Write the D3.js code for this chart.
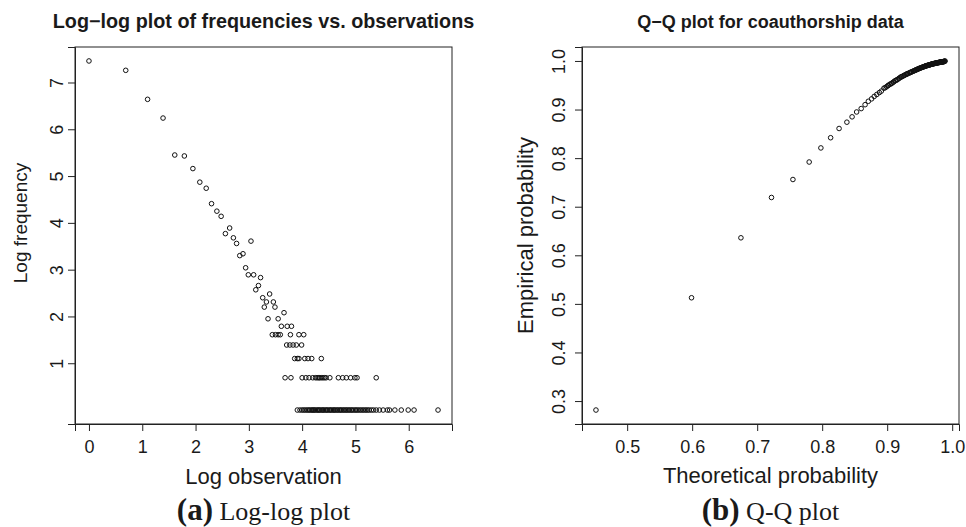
<!DOCTYPE html>
<html>
<head>
<meta charset="utf-8">
<script src="https://cdn.jsdelivr.net/npm/d3@7"></script>
<style>
  html, body { margin: 0; padding: 0; background: #fff; }
  svg { display: block; }
  text { fill: #1a1a1a; }
</style>
</head>
<body>
<svg id="chart" width="966" height="527"></svg>
<script>
// ---------- Panel (a): log-log plot ----------
const logObservation = [
  0, 0.69, 1.10, 1.39, 1.61, 1.79, 1.95, 2.08, 2.20, 2.30, 2.40, 2.48,
  2.56, 2.64, 2.71, 2.77, 2.83, 2.89, 2.94, 2.99, 3.04, 3.09, 3.13, 3.18,
  3.22, 3.26, 3.29, 3.33, 3.36, 3.39, 3.46, 3.49, 3.55, 3.66,
  3.61, 3.72, 3.80,
  3.44, 3.50, 3.55, 3.59, 3.78, 3.94, 4.03,
  3.71, 3.77, 3.83, 3.89, 3.99,
  3.86, 3.91, 3.94, 4.05, 4.11, 4.18, 4.36,
  3.68, 3.79, 4.00, 4.07, 4.13, 4.20, 4.25, 4.28, 4.31, 4.33, 4.36, 4.39,
  4.42, 4.45, 4.52, 4.68, 4.76, 4.83, 4.91, 4.99, 5.03, 5.39,
  3.91, 3.96, 4.00, 4.03, 4.06, 4.09, 4.12, 4.14, 4.17, 4.19, 4.21, 4.23,
  4.25, 4.28, 4.30, 4.32, 4.34, 4.37, 4.39, 4.41, 4.44, 4.46, 4.48, 4.51,
  4.53, 4.55, 4.58, 4.60, 4.62, 4.65, 4.67, 4.70, 4.72, 4.74, 4.77, 4.79,
  4.82, 4.84, 4.87, 4.89, 4.92, 4.94, 4.97, 5.00, 5.02, 5.05, 5.08, 5.11,
  5.14, 5.17, 5.20, 5.23, 5.26, 5.30, 5.34, 5.39, 5.45, 5.52, 5.60, 5.64,
  5.74, 5.86, 5.99, 6.10, 6.55
];
const logFrequency = [
  7.46, 7.26, 6.64, 6.24, 5.45, 5.43, 5.16, 4.87, 4.74, 4.41, 4.25, 4.14,
  3.77, 3.89, 3.68, 3.56, 3.30, 3.34, 3.04, 2.89, 3.61, 2.89, 2.57, 2.66,
  2.83, 2.40, 2.20, 2.31, 1.95, 2.48, 2.31, 2.20, 1.95, 2.08,
  1.79, 1.79, 1.79,
  1.61, 1.61, 1.61, 1.61, 1.61, 1.61, 1.61,
  1.39, 1.39, 1.39, 1.39, 1.39,
  1.10, 1.10, 1.10, 1.10, 1.10, 1.10, 1.10,
  0.69, 0.69, 0.69, 0.69, 0.69, 0.69, 0.69, 0.69, 0.69, 0.69, 0.69, 0.69,
  0.69, 0.69, 0.69, 0.69, 0.69, 0.69, 0.69, 0.69, 0.69, 0.69,
  0, 0, 0, 0, 0, 0, 0, 0, 0, 0, 0, 0,
  0, 0, 0, 0, 0, 0, 0, 0, 0, 0, 0, 0,
  0, 0, 0, 0, 0, 0, 0, 0, 0, 0, 0, 0,
  0, 0, 0, 0, 0, 0, 0, 0, 0, 0, 0, 0,
  0, 0, 0, 0, 0, 0, 0, 0, 0, 0, 0, 0,
  0, 0, 0, 0, 0
];
const llXTicks = [0, 1, 2, 3, 4, 5, 6];
const llYTicks = [1, 2, 3, 4, 5, 6, 7];

// ---------- Panel (b): Q-Q plot ----------
const qqTheoretical = [
  0.452, 0.599, 0.675, 0.722, 0.755, 0.780, 0.798, 0.813, 0.826, 0.838,
  0.846, 0.853, 0.860, 0.866, 0.871, 0.876, 0.880, 0.884, 0.888, 0.891,
  0.895, 0.897, 0.899, 0.901, 0.902, 0.904, 0.906, 0.907, 0.909, 0.910,
  0.912, 0.913, 0.915, 0.916, 0.918, 0.919, 0.921, 0.922, 0.923, 0.925,
  0.926, 0.927, 0.929, 0.930, 0.931, 0.932, 0.934, 0.935, 0.936, 0.937,
  0.938, 0.940, 0.941, 0.942, 0.943, 0.944, 0.945, 0.946, 0.947, 0.948,
  0.949, 0.950, 0.951, 0.952, 0.953, 0.954, 0.955, 0.956, 0.957, 0.958,
  0.9585, 0.959, 0.960, 0.961, 0.962, 0.9625, 0.963, 0.964, 0.965, 0.9655,
  0.966, 0.967, 0.9675, 0.968, 0.969, 0.9695, 0.970, 0.971, 0.9715, 0.972,
  0.973, 0.9735, 0.974, 0.9745, 0.975, 0.976, 0.9765, 0.977, 0.9775, 0.978,
  0.979, 0.9795, 0.980, 0.9805, 0.981, 0.9815, 0.982, 0.9825, 0.983, 0.9835,
  0.984, 0.9845, 0.985, 0.9855, 0.986, 0.9865, 0.987, 0.9875, 0.988, 0.9885,
  0.989
];
const qqEmpirical = [
  0.2815, 0.5126, 0.636, 0.719, 0.756, 0.792, 0.821, 0.842, 0.861, 0.874,
  0.885, 0.895, 0.902, 0.910, 0.917, 0.922, 0.927, 0.931, 0.935, 0.938,
  0.944, 0.945, 0.947, 0.949, 0.950, 0.952, 0.953, 0.954, 0.956, 0.957,
  0.959, 0.960, 0.961, 0.962, 0.964, 0.965, 0.967, 0.9674, 0.9681, 0.9695,
  0.9702, 0.9709, 0.9723, 0.973, 0.9736, 0.9742, 0.9754, 0.976, 0.9766, 0.9772,
  0.9778, 0.979, 0.9796, 0.9802, 0.9808, 0.9814, 0.982, 0.9826, 0.9832, 0.9838,
  0.9844, 0.985, 0.9855, 0.986, 0.9865, 0.987, 0.9875, 0.988, 0.9885, 0.989,
  0.9893, 0.9895, 0.990, 0.9904, 0.9908, 0.991, 0.9912, 0.9916, 0.992, 0.9922,
  0.9924, 0.9928, 0.993, 0.9932, 0.9936, 0.9938, 0.994, 0.9943, 0.9945, 0.9946,
  0.9949, 0.9951, 0.9952, 0.9954, 0.9955, 0.9958, 0.996, 0.9961, 0.9963, 0.9964,
  0.9967, 0.9969, 0.997, 0.9971, 0.9973, 0.9974, 0.9975, 0.9976, 0.9978, 0.9979,
  0.998, 0.9981, 0.9983, 0.9984, 0.9985, 0.9986, 0.9988, 0.9989, 0.999, 0.9993,
  1.0
];
const qqXTicks = [0.5, 0.6, 0.7, 0.8, 0.9, 1.0];
const qqYTicks = [0.3, 0.4, 0.5, 0.6, 0.7, 0.8, 0.9, 1.0];

// ---------- drawing ----------
const svg = d3.select("#chart");
svg.append("rect").attr("width", 966).attr("height", 527).attr("fill", "#fff");

const SANS = "'Liberation Sans', Arial, Helvetica, sans-serif";
const SERIF = "'Liberation Serif', 'Times New Roman', serif";

function padDomain(vals) {
  const [lo, hi] = d3.extent(vals);
  const r = hi - lo;
  return [lo - 0.04 * r, hi + 0.04 * r];
}

function panel(o) {
  const g = svg.append("g");
  const x = d3.scaleLinear().domain(padDomain(o.xs)).range([o.left, o.right]);
  const y = d3.scaleLinear().domain(padDomain(o.ys)).range([o.bottom, o.top]);

  // box
  g.append("rect")
    .attr("x", o.left).attr("y", o.top)
    .attr("width", o.right - o.left).attr("height", o.bottom - o.top)
    .attr("fill", "none").attr("stroke", "#222").attr("stroke-width", 1);

  // x axis
  const xa = g.append("g").attr("transform", `translate(0,${o.bottom})`)
    .call(d3.axisBottom(x).tickValues(o.xTicks).tickSize(7).tickPadding(9)
      .tickFormat(o.xFmt));
  xa.select(".domain").attr("stroke", "#222");
  xa.selectAll(".tick line").attr("stroke", "#222");
  xa.selectAll(".tick text").attr("font-family", SANS).attr("font-size", 18)
    .attr("fill", "#1a1a1a");

  // y axis (labels rotated, R style)
  const ya = g.append("g").attr("transform", `translate(${o.left},0)`)
    .call(d3.axisLeft(y).tickValues(o.yTicks).tickSize(7).tickFormat(o.yFmt));
  ya.select(".domain").attr("stroke", "#222");
  ya.selectAll(".tick line").attr("stroke", "#222");
  ya.selectAll(".tick text")
    .attr("font-family", SANS).attr("font-size", 18).attr("fill", "#1a1a1a")
    .attr("x", 0).attr("dy", null).attr("y", -o.yLabOff)
    .attr("text-anchor", "middle")
    .attr("transform", "rotate(-90)");

  // points
  g.append("g").selectAll("circle")
    .data(d3.range(o.xs.length))
    .join("circle")
    .attr("cx", i => x(o.xs[i]))
    .attr("cy", i => y(o.ys[i]))
    .attr("r", 2.3)
    .attr("fill", "none")
    .attr("stroke", "#111")
    .attr("stroke-width", 1);

  const cx = (o.left + o.right) / 2;

  // title
  g.append("text").attr("x", cx).attr("y", 28)
    .attr("text-anchor", "middle").attr("font-family", SANS)
    .attr("font-weight", "bold").attr("font-size", o.titleSize)
    .text(o.title);

  // x label
  g.append("text").attr("x", cx).attr("y", o.xLabY)
    .attr("text-anchor", "middle").attr("font-family", SANS)
    .attr("font-size", 22).text(o.xLab);

  // y label
  g.append("text")
    .attr("transform", `translate(${o.yTitleX},${o.yTitleY}) rotate(-90)`)
    .attr("text-anchor", "middle").attr("font-family", SANS)
    .attr("font-size", o.yTitleSize).text(o.yLab);

  // caption
  const cap = g.append("text").attr("x", cx).attr("y", 520)
    .attr("text-anchor", "middle").attr("font-family", SERIF);
  cap.append("tspan").attr("font-weight", "bold").attr("font-size", 31).text(o.capTag);
  cap.append("tspan").attr("font-size", 26).text(" " + o.capText);
}

panel({
  xs: logObservation, ys: logFrequency,
  left: 75, right: 452, top: 47, bottom: 424,
  xTicks: llXTicks, yTicks: llYTicks,
  xFmt: d3.format("d"), yFmt: d3.format("d"),
  yLabOff: 12,
  title: "Log\u2212log plot of frequencies vs. observations", titleSize: 19.8,
  xLab: "Log observation", xLabY: 484,
  yLab: "Log frequency", yTitleX: 27, yTitleY: 223, yTitleSize: 19,
  capTag: "(a)", capText: "Log-log plot"
});

panel({
  xs: qqTheoretical, ys: qqEmpirical,
  left: 582, right: 959, top: 47, bottom: 424,
  xTicks: qqXTicks, yTicks: qqYTicks,
  xFmt: d3.format(".1f"), yFmt: d3.format(".1f"),
  yLabOff: 17,
  title: "Q\u2212Q plot for coauthorship data", titleSize: 18,
  xLab: "Theoretical probability", xLabY: 483,
  yLab: "Empirical probability", yTitleX: 533, yTitleY: 235.5, yTitleSize: 22,
  capTag: "(b)", capText: "Q-Q plot"
});
</script>
</body>
</html>
